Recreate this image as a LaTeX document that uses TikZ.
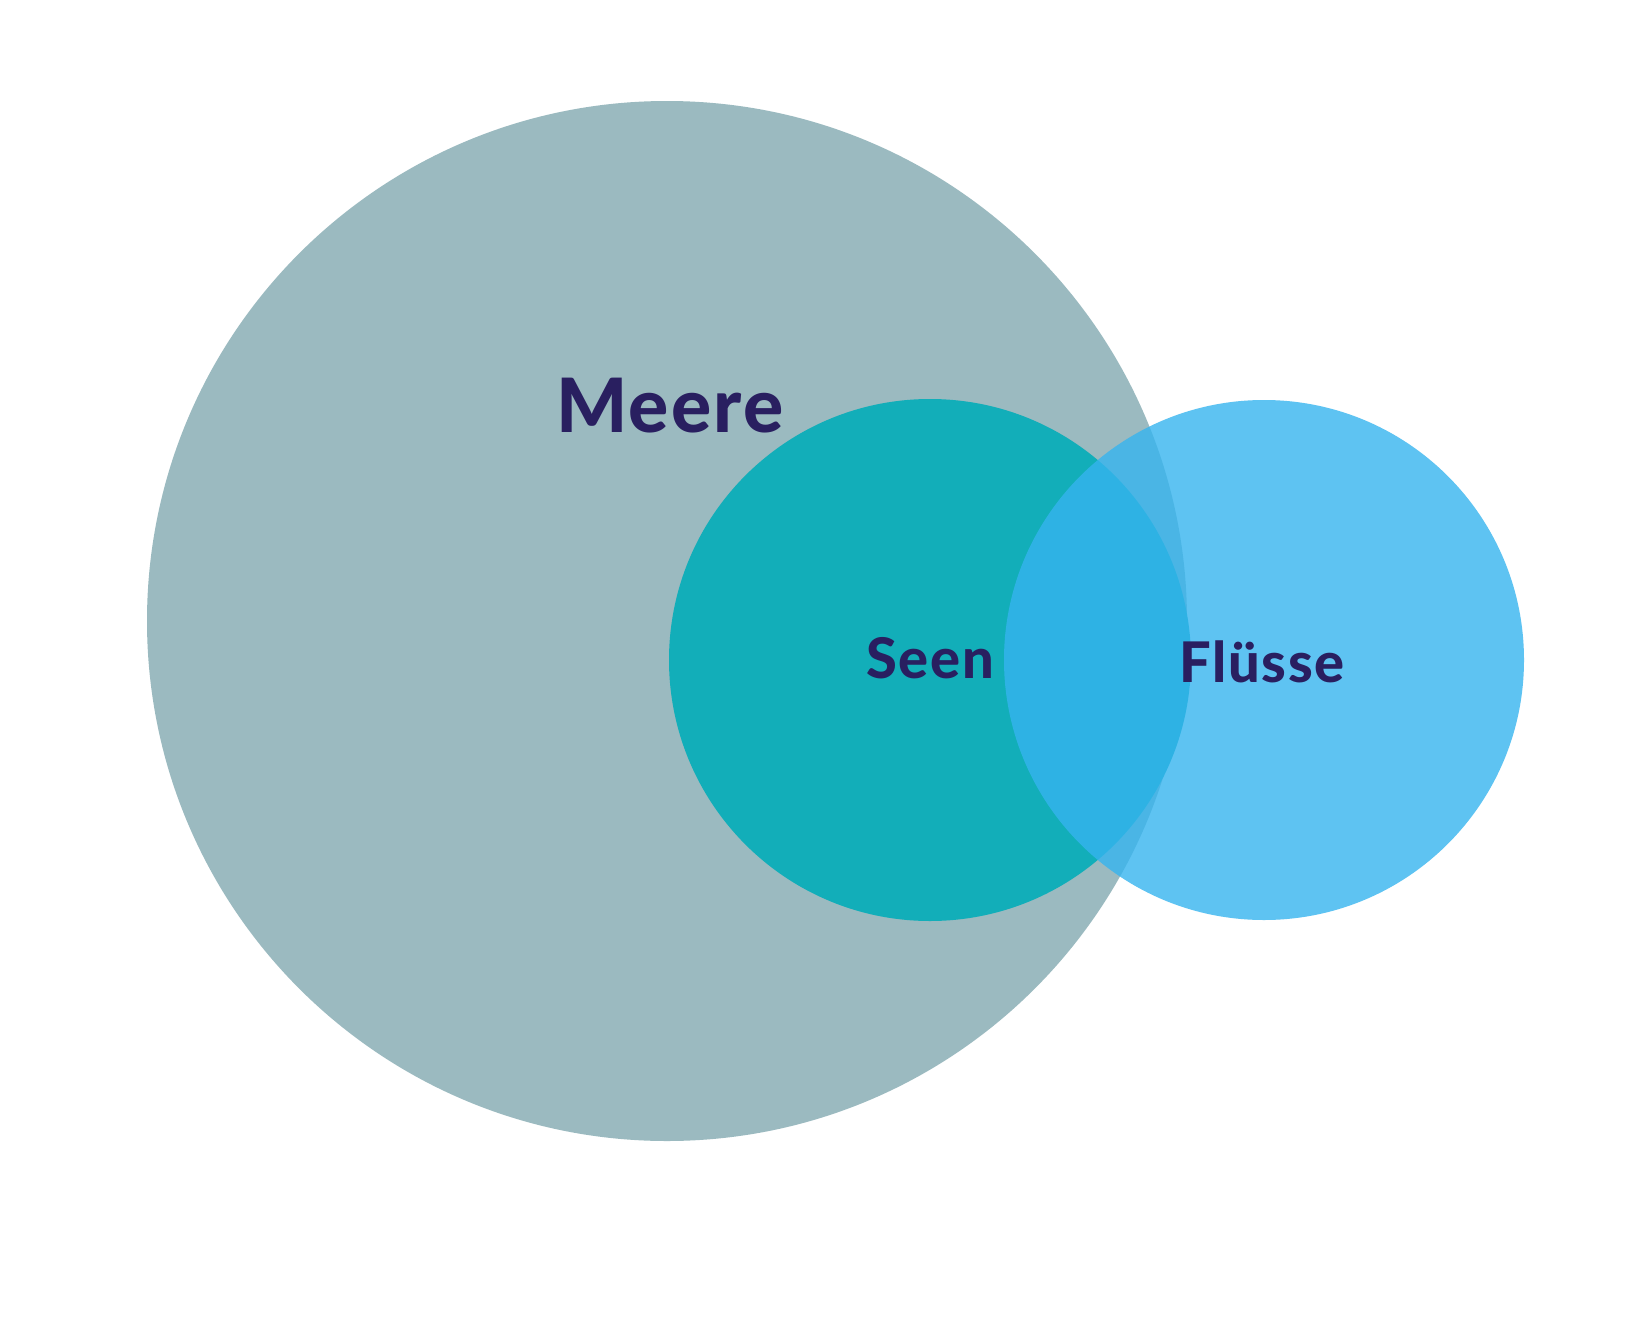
\documentclass[tikz,border=0pt]{standalone}
\usepackage{fontspec}
\setmainfont{Lato}[BoldFont={Lato Heavy}, LetterSpace=3]
\definecolor{meergray}{HTML}{9BBAC0}
\definecolor{seeteal}{HTML}{12AEB9}
\definecolor{flussblue}{HTML}{36B4EF}
\definecolor{labelink}{HTML}{291F60}
\begin{document}
\begin{tikzpicture}[x=1pt,y=-1pt,
  setcircle/.style={circle, inner sep=0pt, draw=none},
  biglabel/.style={text=labelink, font=\bfseries\fontsize{75}{90}\selectfont, inner sep=0pt, anchor=base},
  smalllabel/.style={text=labelink, font=\bfseries\fontsize{56}{68}\selectfont, inner sep=0pt, anchor=base}]
\fill[white] (0,0) rectangle (1650,1322);
\useasboundingbox (0,0) rectangle (1650,1322);
\node[setcircle, fill=meergray, minimum size=1040pt] (meere) at (667,621) {};
\node[setcircle, fill=seeteal, minimum size=522pt] (seen) at (930,660) {};
\node[setcircle, fill=flussblue, fill opacity=0.8, minimum size=520pt] (fluesse) at (1264,660) {};
\node[biglabel] (tmeere) at (670,432) {Meere};
\node[smalllabel] (tseen) at (930,678) {Seen};
\node[smalllabel] (tfluesse) at (1262,682) {Flüsse};
\end{tikzpicture}
\end{document}
